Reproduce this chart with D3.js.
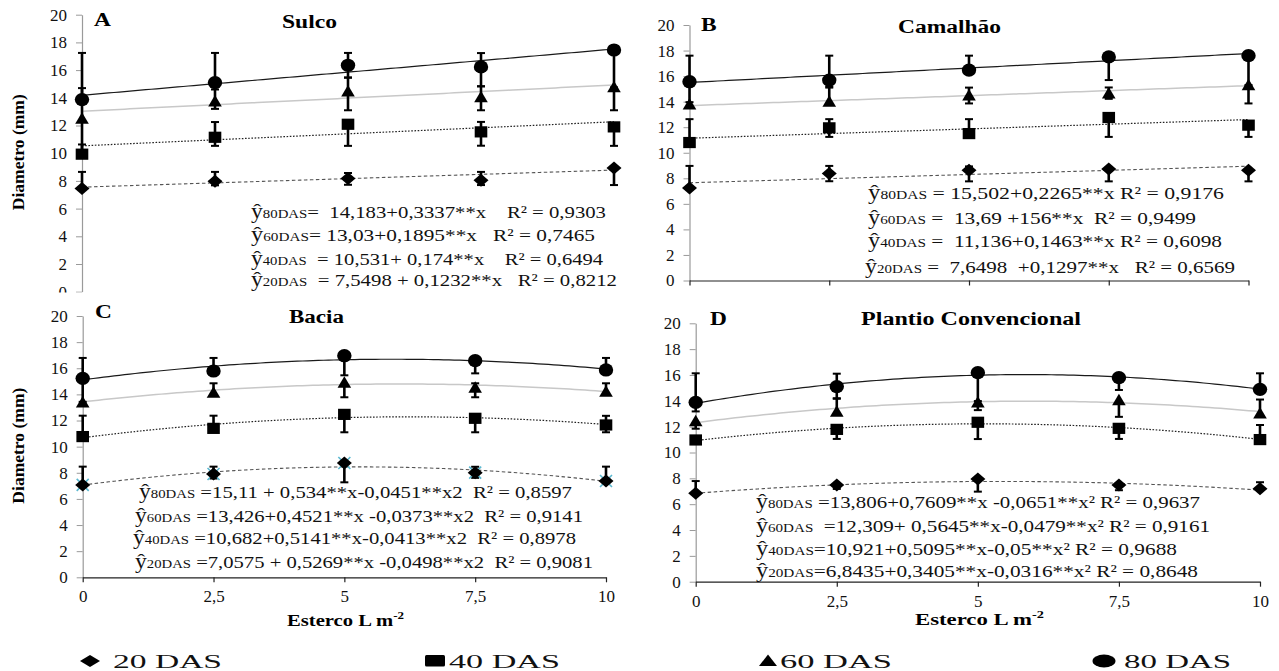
<!DOCTYPE html>
<html><head><meta charset="utf-8">
<script src="https://cdn.jsdelivr.net/npm/d3@7"></script>
<style>body{margin:0;background:#fff}svg{display:block}text.pre{white-space:pre}</style>
</head><body>
<svg id="c" width="1279" height="671"></svg>
<script>
// ---------- DATA ----------
const doses = [0, 2.5, 5, 7.5, 10];
const doseLabels = ["0", "2,5", "5", "7,5", "10"];
const yTicks = [0, 2, 4, 6, 8, 10, 12, 14, 16, 18, 20];
const seriesNames = ["20 DAS", "40 DAS", "60 DAS", "80 DAS"];
const seriesSubs = ["20DAS", "40DAS", "60DAS", "80DAS"];
const panelTitles = ["Sulco", "Camalhão", "Bacia", "Plantio Convencional"];
const panelLetters = ["A", "B", "C", "D"];

// order of rows: 20, 40, 60, 80 DAS
const sulcoMeans = [[7.45, 7.98, 8.17, 8.05, 8.94], [9.93, 11.15, 12.09, 11.54, 11.9], [12.5, 13.75, 14.47, 14.06, 14.78], [13.87, 15.1, 16.35, 16.23, 17.45]];
const sulcoErrUp = [[1.2, 0.67, 0.4, 0.6, 0], [0.7, 1.1, 0.3, 0.72, 0], [2.2, 0.85, 1.0, 0.77, 0], [3.37, 2.14, 0.89, 1.0, 0]];
const sulcoErrDown = [[0, 0.3, 0.45, 0.35, 1.24], [0, 0.62, 1.56, 1.0, 1.37], [2.4, 0.55, 1.37, 0.96, 1.68], [0, 0, 0.9, 1.4, 2.7]];
const sulcoCoef = [[7.5498, 0.1232, 0], [10.531, 0.174, 0], [13.03, 0.1895, 0], [14.183, 0.3337, 0]];
const sulcoEq = [
  ["  = 7,5498 + 0,1232**x   R² = 0,8212"],
  ["  = 10,531+ 0,174**x    R² = 0,6494"],
  ["= 13,03+0,1895**x   R² = 0,7465"],
  ["=  14,183+0,3337**x    R² = 0,9303"]];

const camalhaoMeans = [[7.24, 8.37, 8.63, 8.73, 8.63], [10.8, 11.95, 11.5, 12.76, 12.16], [13.8, 14.0, 14.5, 14.65, 15.3], [15.56, 15.69, 16.47, 17.5, 17.6]];
const camalhaoErrUp = [[1.73, 0.6, 0.3, 0, 0], [1.83, 0.68, 1.13, 0, 0], [0, 1.1, 0.6, 0.46, 0], [2.04, 1.91, 1.13, 0, 0]];
const camalhaoErrDown = [[0, 0.6, 0.87, 0.97, 0.87], [0, 0.71, 0, 1.52, 0.92], [0, 0, 0.64, 0.43, 1.44], [1.6, 0.5, 0, 1.81, 2.3]];
const camalhaoCoef = [[7.6498, 0.1297, 0], [11.136, 0.1463, 0], [13.69, 0.156, 0], [15.502, 0.2265, 0]];
const camalhaoEq = [
  [" =  7,6498  +0,1297**x   R² = 0,6569"],
  [" =  11,136+0,1463**x R² = 0,6098"],
  [" =  13,69 +156**x  R² = 0,9499"],
  [" = 15,502+0,2265**x R² = 0,9176"]];

const baciaMeans = [[7.07, 7.91, 8.75, 8.01, 7.37], [10.77, 11.4, 12.47, 12.17, 11.66], [13.39, 14.13, 14.9, 14.52, 14.21], [15.23, 15.79, 16.96, 16.58, 15.87]];
const baciaErrUp = [[1.4, 0.56, 0, 0.45, 1.1], [1.6, 0.97, 0, 0, 0.7], [0, 0.72, 0, 0.33, 0.64], [1.56, 1.0, 0, 0, 0.92]];
const baciaErrDown = [[0, 0.35, 1.48, 0.4, 0], [0, 0, 1.37, 1.07, 0.56], [0, 0, 1.12, 0.74, 0], [1.8, 0, 1.5, 0.97, 0]];
const baciaCoef = [[7.0575, 0.5269, -0.0498], [10.682, 0.5141, -0.0413], [13.426, 0.4521, -0.0373], [15.11, 0.534, -0.0451]];
const baciaEq = [
  [" =7,0575 + 0,5269**x -0,0498**x2  R² = 0,9081"],
  [" =10,682+0,5141**x-0,0413**x2  R² = 0,8978"],
  [" =13,426+0,4521**x -0,0373**x2  R² = 0,9141"],
  [" =15,11 + 0,534**x-0,0451**x2  R² = 0,8597"]];

const plantioMeans = [[6.84, 7.48, 7.95, 7.48, 7.2], [10.97, 11.79, 12.34, 11.87, 11.0], [12.44, 13.16, 13.88, 14.06, 13.03], [13.88, 15.1, 16.18, 15.79, 14.89]];
const plantioErrUp = [[0.95, 0, 0, 0, 0.5], [0, 0, 0, 0, 1.13], [0, 1.0, 0, 0, 1.07], [2.25, 1.0, 0, 0, 1.24]];
const plantioErrDown = [[0, 0.3, 0.98, 0.4, 0], [0, 0.74, 1.3, 0.82, 0], [0.6, 0, 0.6, 1.3, 0], [0.7, 0.9, 2.2, 0.95, 0]];
const plantioCoef = [[6.8435, 0.3405, -0.0316], [10.921, 0.5095, -0.05], [12.309, 0.5645, -0.0479], [13.806, 0.7609, -0.0651]];
const plantioEq = [
  ["=6,8435+0,3405**x-0,0316**x² R² = 0,8648"],
  ["=10,921+0,5095**x-0,05**x² R² = 0,9688"],
  ["  =12,309+ 0,5645**x-0,0479**x² R² = 0,9161"],
  [" =13,806+0,7609**x -0,0651**x² R² = 0,9637"]];

// ---------- LAYOUT ----------
const FONT = "'Liberation Serif','Times New Roman',serif";
const svg = d3.select("#c");
const panels = [
  {means: sulcoMeans, up: sulcoErrUp, down: sulcoErrDown, coef: sulcoCoef, eq: sulcoEq,
   x0: 82, x1: 614, yTop: 14.7, yBot: 291.7, xAxis: "none", ylab: true,
   title: [282, 337, 28], letter: [94, 26],
   eqPos: [[251, 617, 286], [251, 603, 265], [251, 595, 241], [251, 606, 218]]},
  {means: camalhaoMeans, up: camalhaoErrUp, down: camalhaoErrDown, coef: camalhaoCoef, eq: camalhaoEq,
   x0: 689.5, x1: 1248.5, yTop: 25, yBot: 280.5, xAxis: "ticks", ylab: false,
   title: [898, 1001, 33], letter: [701, 31],
   eqPos: [[865, 1235, 273], [868, 1222, 247], [868, 1196, 224], [868, 1224, 199]]},
  {means: baciaMeans, up: baciaErrUp, down: baciaErrDown, coef: baciaCoef, eq: baciaEq,
   x0: 82.7, x1: 606, yTop: 316, yBot: 577.3, xAxis: "labels", ylab: true,
   title: [289, 344, 323], letter: [95, 318], xlab: [287, 404, 626],
   eqPos: [[135, 593, 568], [133, 576, 544], [135, 583, 522], [139, 572, 498]]},
  {means: plantioMeans, up: plantioErrUp, down: plantioErrDown, coef: plantioCoef, eq: plantioEq,
   x0: 695.7, x1: 1260, yTop: 323.3, yBot: 581.7, xAxis: "labels", ylab: false,
   title: [861, 1081, 325], letter: [710, 325], xlab: [915, 1044, 625],
   eqPos: [[756, 1198, 577], [756, 1177, 555], [756, 1210, 532], [756, 1200, 508]]}
];

const lineStyles = [
  {stroke: "#555", width: 1.1, dash: "3.5,2.5"},
  {stroke: "#222", width: 1.2, dash: "1.6,1.6"},
  {stroke: "#c8c8c8", width: 1.5, dash: null},
  {stroke: "#1a1a1a", width: 1.2, dash: null}
];

function marker(g, k, cx, cy, s) {
  s = s || 1;
  if (k === 0) {
    const w = 7.5 * s, h = 6.5 * s;
    g.append("path").attr("d", `M${cx - w},${cy}L${cx},${cy - h}L${cx + w},${cy}L${cx},${cy + h}Z`).attr("fill", "#000");
  } else if (k === 1) {
    g.append("rect").attr("x", cx - 6.3 * s).attr("y", cy - 5.6 * s).attr("width", 12.6 * s).attr("height", 11.2 * s).attr("fill", "#000");
  } else if (k === 2) {
    const w = 6.8 * s, h = 11.5 * s;
    g.append("path").attr("d", `M${cx - w},${cy + h * 0.45}L${cx},${cy - h * 0.55}L${cx + w},${cy + h * 0.45}Z`).attr("fill", "#000");
  } else {
    g.append("ellipse").attr("cx", cx).attr("cy", cy).attr("rx", 7.2 * s).attr("ry", 6.6 * s).attr("fill", "#000");
  }
}

function fit(sel, x0, x1) {
  sel.attr("x", x0).attr("textLength", x1 - x0).attr("lengthAdjust", "spacingAndGlyphs");
  return sel;
}

function drawPanel(p, idx) {
  const g = svg.append("g");
  const x = d3.scaleLinear().domain([0, 10]).range([p.x0, p.x1]);
  const y = d3.scaleLinear().domain([0, 20]).range([p.yBot, p.yTop]);

  // y axis
  const ya = g.append("g").attr("transform", `translate(${p.x0},0)`)
    .call(d3.axisLeft(y).tickValues(yTicks).tickSize(6).tickPadding(9).tickSizeOuter(0).tickFormat(d3.format("d")));
  ya.select(".domain").attr("stroke", "#9a9a9a").attr("stroke-width", 1.2);
  ya.selectAll(".tick line").attr("stroke", "#9a9a9a");
  ya.selectAll(".tick text").attr("font-family", FONT).attr("font-size", 17).attr("fill", "#111");

  // x axis
  if (p.xAxis !== "none") {
    const xa = g.append("g").attr("transform", `translate(0,${p.yBot})`)
      .call(d3.axisBottom(x).tickValues(doses).tickSize(5).tickPadding(8).tickSizeOuter(0)
        .tickFormat((d, i) => p.xAxis === "labels" ? doseLabels[i] : ""));
    xa.select(".domain").attr("stroke", "#222").attr("stroke-width", 1.2);
    xa.selectAll(".tick line").attr("stroke", "#222").attr("stroke-width", 1.2);
    xa.selectAll(".tick text").attr("font-family", FONT).attr("font-size", 17).attr("fill", "#111");
  }

  // fitted curves
  const xs = d3.range(0, 10.001, 0.1);
  p.coef.forEach((c, k) => {
    const st = lineStyles[k];
    g.append("path")
      .attr("d", d3.line().x(d => x(d)).y(d => y(c[0] + c[1] * d + c[2] * d * d))(xs))
      .attr("fill", "none").attr("stroke", st.stroke).attr("stroke-width", st.width)
      .attr("stroke-dasharray", st.dash);
  });

  // error bars
  p.means.forEach((row, k) => {
    row.forEach((v, i) => {
      const cx = x(doses[i]);
      [[p.up[k][i], 1], [p.down[k][i], -1]].forEach(([e, sgn]) => {
        if (e > 0) {
          const yEnd = y(v + sgn * e);
          g.append("line").attr("x1", cx).attr("x2", cx).attr("y1", y(v)).attr("y2", yEnd)
            .attr("stroke", "#000").attr("stroke-width", 2.6);
          g.append("line").attr("x1", cx - 4).attr("x2", cx + 4).attr("y1", yEnd).attr("y2", yEnd)
            .attr("stroke", "#000").attr("stroke-width", 2);
        }
      });
    });
  });

  // markers
  p.means.forEach((row, k) => {
    row.forEach((v, i) => {
      const cx = x(doses[i]), cy = y(v);
      if (idx === 2 && k === 0) {
        g.append("path").attr("d", `M${cx - 6},${cy - 6}L${cx + 6},${cy + 6}M${cx - 6},${cy + 6}L${cx + 6},${cy - 6}`)
          .attr("stroke", "#5bb8d0").attr("stroke-width", 1.6);
      }
      marker(g, k, cx, cy);
    });
  });

  // equations
  p.eq.forEach((e, k) => {
    const [ex0, ex1, ey] = p.eqPos[k];
    const t = g.append("text").attr("class", "pre").attr("xml:space", "preserve").attr("y", ey)
      .attr("font-family", FONT).attr("font-size", 17.5).attr("fill", "#111");
    t.append("tspan").text("ŷ").attr("font-size", 20);
    t.append("tspan").text(seriesSubs[k]).attr("font-size", 12.5);
    t.append("tspan").text(e[0]);
    fit(t, ex0, ex1);
  });

  // title and letter
  fit(g.append("text").attr("y", p.title[2]).attr("font-family", FONT).attr("font-weight", "bold")
    .attr("font-size", 18.5).text(panelTitles[idx]), p.title[0], p.title[1]);
  g.append("text").attr("x", p.letter[0]).attr("y", p.letter[1]).attr("font-family", FONT)
    .attr("font-weight", "bold").attr("font-size", 18).attr("transform", `translate(${p.letter[0]},0) scale(1.3,1) translate(${-p.letter[0]},0)`)
    .text(panelLetters[idx]);

  // y label
  if (p.ylab) {
    const cy = (p.yTop + p.yBot) / 2 - 1;
    g.append("text").attr("transform", `translate(24,${cy}) rotate(-90)`).attr("text-anchor", "middle")
      .attr("font-family", FONT).attr("font-weight", "bold").attr("font-size", 17.5)
      .attr("textLength", 116).attr("lengthAdjust", "spacingAndGlyphs").text("Diametro (mm)");
  }
  // x label
  if (p.xlab) {
    const t = g.append("text").attr("y", p.xlab[2]).attr("font-family", FONT).attr("font-weight", "bold").attr("font-size", 17.5);
    t.append("tspan").text("Esterco L m");
    t.append("tspan").text("-2").attr("font-size", 11).attr("dy", -7);
    fit(t, p.xlab[0], p.xlab[1]);
  }
}

drawPanel(panels[0], 0);
drawPanel(panels[1], 1);
// panel C's picture lies over the bottom of panel A
svg.append("rect").attr("x", 0).attr("y", 292.5).attr("width", 645).attr("height", 380).attr("fill", "#fff");
drawPanel(panels[2], 2);
drawPanel(panels[3], 3);

// legend
const legendPos = [[90, 113, 222], [435, 449, 560], [768, 780, 892], [1104, 1124, 1231]];
seriesNames.forEach((name, k) => {
  const [mx, tx0, tx1] = legendPos[k];
  const g = svg.append("g");
  const cy = 661;
  if (k === 0) g.append("path").attr("d", `M${mx - 10},${cy}L${mx},${cy - 6}L${mx + 10},${cy}L${mx},${cy + 6}Z`);
  else if (k === 1) g.append("rect").attr("x", mx - 10).attr("y", cy - 6).attr("width", 20).attr("height", 11.5).attr("rx", 1.5);
  else if (k === 2) g.append("path").attr("d", `M${mx - 9},${cy + 5}L${mx},${cy - 6.5}L${mx + 9},${cy + 5}Z`);
  else g.append("ellipse").attr("cx", mx).attr("cy", cy).attr("rx", 11.5).attr("ry", 6.5);
  fit(g.append("text").attr("y", 668).attr("font-family", FONT).attr("font-size", 19).attr("fill", "#111").text(name), tx0, tx1);
});
</script>
</body></html>
